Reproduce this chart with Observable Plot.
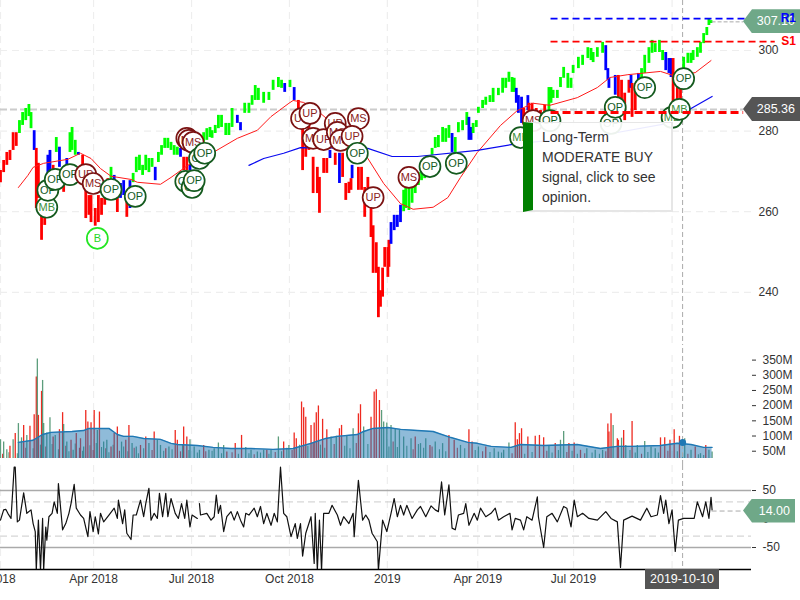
<!DOCTYPE html>
<html>
<head>
<meta charset="utf-8">
<script src="https://cdn.jsdelivr.net/npm/d3@7"></script>
<script src="https://cdn.jsdelivr.net/npm/@observablehq/plot@0.6"></script>
<style>
html,body{margin:0;padding:0;background:#fff;overflow:hidden}
#chart{position:relative;width:800px;height:600px;font-family:Arial,"Liberation Sans",sans-serif;overflow:hidden}
#chart svg{position:absolute;left:0}
.tag{position:absolute;color:#fff;font-size:12.5px;display:flex;align-items:center;justify-content:flex-end;padding-right:5px;box-sizing:border-box;clip-path:polygon(0 50%,9px 0,100% 0,100% 100%,9px 100%)}
.lev{position:absolute;font-weight:bold;font-size:12px}
#tip{position:absolute;left:523px;top:122px;width:150px;height:90px;box-sizing:border-box;background:rgba(255,255,255,.92);border:1px solid #e6e6e6;border-bottom-width:2px;border-right-width:2px;border-left:10px solid #008000;color:#333;font-size:14px;line-height:20px;padding:4px 0 0 9px;white-space:pre}
#date{position:absolute;left:645px;top:569px;width:74px;height:20px;background:#555;color:#fff;font-size:12.5px;line-height:20px;text-align:center}
</style>
</head>
<body>
<div id="chart"></div>
<script>
const barDay=[0,3,6,9,12,15,18,21,24,27,
29,32,34,36,39,42,45,47,50,53,
56,60,63,66,68,71,74,78,81,84,
86,90,93,96,99,102,105,108,111,114,
117,120,123,126,129,132,135,138,141,144,
147,150,153,156,159,162,165,168,171,174,
177,180,183,186,189,193,196,199,201,204,
207,210,214,217,220,225,228,232,236,239,
242,245,250,255,259,264,267,270,275,279,
283,287,290,293,297,301,303,307,310,313,
318,322,325,328,331,333,334,340,343,346,
349,352,354,357,359,361,363,365,368,369,
371,374,377,380,383,385,388,391,394,397,
400,403,407,410,413,416,420,423,426,429,
432,435,439,443,445,447,449,452,454,458,
461,465,468,473,477,480,483,486,488,490,
492,495,497,501,502,505,509,513,517,521,
523,525,529,532,535,539,542,544,549,553,
558,561,563,567,572,575,577,578,584,587,
590,593,597,599,600,603,606,609,612,616,
619,622,626,629,632,635,637,639,643,646,
649,653,656,658,662,665,668,671,673,675];
const barHigh=[270.2,272.7,274.7,275.2,279.6,279.6,282.6,284.6,285.6,286.6,
284.6,280.1,275.7,272,262.3,267.7,274,275.2,271.5,278.4,
276,270.7,273.2,279.6,280.9,277.7,274.7,274,268.2,264,
264,260.8,264,263.3,266.5,268.2,271,269,264.8,267,
267.7,263.3,267.7,269.5,273.5,274,271.5,274,273.2,273.2,
271,274.7,276.4,278.2,278.2,277.2,276.4,276,275.7,273.5,
273.5,271.5,274,275.2,276.4,279.6,280.6,280.9,280.1,281.4,
283.9,283.9,281.9,281.9,285.6,283.9,282.1,286.9,286.9,288.8,
291.3,290.6,289.6,289.6,292.6,293.3,292.6,291.8,292.6,290.8,
287.6,280.9,278.4,281.4,273.5,271,268.5,273.2,273.2,275.2,
274.5,274.5,274.5,267,267.3,268.2,271.5,271,271,266,
268.5,265.3,256.5,252.3,246.2,240.4,246,251.1,251.1,252.9,
257.3,259.1,259.1,261.6,265.3,265.8,266,266,268.5,269.7,
270.2,271,273.2,275.7,278.4,278.9,280.9,280.6,281.4,279.4,
278.4,282.1,282.6,284.6,283.4,280.9,281.9,282.6,285.9,287.6,
288.4,288.8,290.6,290.6,293.1,293.1,294.6,293.3,293.1,290.6,
288.8,288.4,285.6,288.8,286.9,286.9,285.6,285.1,286.4,290.8,
290.8,290.1,290.1,293.3,295.8,294.3,293.1,296.3,298.3,298.8,
300.7,300.5,299.5,300.7,302,301.2,295.5,293.1,293.8,293.8,
292.6,289.4,292.6,293.8,291.8,291.8,294.3,295.5,298.8,300.7,
302.5,301.7,302.5,300,299.5,298,298,298,291.3,290.8,
298.3,299.3,299.3,300,300.7,302,304.2,305.7,307.9,307.4];
const barLow=[267.2,269.7,271.5,272.7,275.2,276.2,279.4,281.4,282.6,283.6,
280.6,275.2,260.8,263.3,252.9,256.6,261.6,268.2,261.6,274.7,
271,264.8,271,274.7,275.2,274,274,269,258.3,259.1,
257.3,256.4,257.3,259.1,261.6,264,267.7,267.7,259.8,263.3,
264,258.6,260.8,267.2,269.7,270.2,269,270.2,269.7,271,
267.7,272.2,274,275.7,275.7,275.2,274,274,273.5,270.2,
270.2,270.2,271.5,272.7,274,277.2,277.7,278.4,278.2,279.4,
280.6,280.9,278.9,278.9,280.9,281.9,280.1,284.4,284.4,286.4,
287.6,287.6,286.9,287.6,290.1,290.8,290.6,289.6,290.8,287.6,
284.6,270.2,273.5,275.2,264.5,264.5,259.6,269.5,269.5,273.2,
271.5,267,268.5,262.8,264.5,265.3,268.2,265.3,265.3,258.6,
263.5,253.6,244.7,244.7,233.7,236.3,238.8,246.2,243.7,246.2,
251.9,255.3,256.1,257.3,260,260.8,260.3,262.1,264.5,266.5,
267.7,268.2,270.2,274,275.7,275.9,277.2,277.2,278.2,274.7,
274.7,279.6,280.1,281.4,277.7,277.7,279.4,280.9,284.4,285.6,
286.4,287.1,287.1,288.8,289.4,290.6,292.1,289.6,289.6,286.9,
284.4,281.9,281.9,285.1,283.4,284.6,282.6,282.1,282.6,285.1,
286.9,288.1,288.1,290.8,293.1,290.6,290.6,294.3,295.5,296.3,
298,297.5,297,298.3,299.3,295,292.6,290.6,288.9,285.1,
285.6,282.6,289.4,290.6,283.4,285.1,291.3,292.6,294.3,296.8,
299.3,299.5,299.5,297.5,295,294.3,293.3,285.1,285.1,287.6,
295.5,296.8,296.8,297.5,298.3,299.3,301.7,303.7,306.2,306.7];
const barKind=("rrrrrrgggg"+"gbrrrrbbrg"+"brbgggbrrr"+"rrrrrrgbrb"+"brbggggggg"+"bgggggggbr"+"rbgggggggg"+"gggggbbggg"+"gggggggbgb"+"rrrrrrrrrb"+"rbrrrrbrrr"+"rrrrrrrrrr"+"bbbbgggggg"+"gggggggggb"+"ggggbbgggg"+"gggggggggb"+"bbrbrrrrrg"+"gggggggggg"+"gggggbbbbr"+"rrrbrrbggg"+"ggggbbbrrr"+"gggggggggg").split("");

const redMaDay=[17,26,31,41,64,76,86,95,105,124,130,152,162,178,202,225,244,257,274,278,288,304,323,342,349,364,380,392,411,425,437,453,475,491,506,522,548,567,579,596,627,639,660,675];
const redMa=[266,269,271,272,273,274.5,273.2,270.7,268.8,268,267.3,266.8,268.5,271.5,274.7,278.2,280.2,283.6,286.9,287.6,287.1,284.4,280.2,275.9,273.2,267,262,260.6,261.1,263.5,268.5,274.7,281.4,285.1,286.9,286.4,288.3,290.8,293.3,294,294.8,293.8,294.5,297.5];
const blueMaDay=[236,250,269,285,349,372,396,453,491,570,638,656,676];
const blueMa=[271.5,273.2,274.5,275.9,275.7,273.7,273.7,275.2,276.9,278.9,282.1,285.6,288.6];

const markerDay=[44,45,52,66,81,88,92,105,128,177,179,183,176,182,184,189,194,286,294,297,307,318,320,323,340,334,339,354,388,408,433,494,506,522,580,584,638,645,612,649];
const markerPrice=[261.1,265.3,268,269.2,269.2,267,253.4,265.5,263.8,278.2,277.7,277.2,267.5,266,267.7,273.2,274.5,283.1,284.4,278.2,277.9,281.9,279.7,277.7,283.1,278.7,274.5,263.5,268.5,271.2,272,278.4,282.6,282.6,281.9,285.9,283.4,285.4,290.8,293];
const markerLabel=["MB","OP","OP","OP","UP","MS","B","OP","OP","MS","MS","MS","OP","OP","OP","OP","OP","UP","UP","MS","UP","UP","MS","MS","MS","UP","OP","UP","MS","OP","OP","MB","MS","OP","OP","OP","MB","MB","OP","OP"];

const volDay=[0,3,6,9,12,14,17,20,22,25,28,32,34,35,36,39,40,41,44,47,50,52,56,59,60,63,67,69,72,76,79,81,83,86,89,92,94,98,101,105,108,111,115,119,122,125,129,133,138,141,146,149,152,157,160,166,168,173,174,177,180,184,189,193,198,203,207,212,215,223,229,233,238,244,250,253,257,264,269,274,279,281,286,288,290,295,298,300,302,306,310,314,319,322,324,329,335,340,342,345,352,355,357,360,362,364,367,371,375,379,383,390,394,399,404,408,413,420,426,431,437,445,448,454,461,469,473,478,483,489,491,493,495,501,508,512,516,521,527,532,535,540,545,551,557,565,572,577,578,580,582,586,587,590,592,594,600,605,612,618,622,627,631,636,640,645,650,656,660,665,670,673,676];
const volume=[88,80,55,66,88,108,141,94,135,102,132,170,294,354,168,247,283,141,110,160,97,102,121,177,138,80,86,53,108,91,64,184,146,144,184,118,179,80,86,64,108,130,80,86,135,75,64,69,97,75,113,86,69,58,64,118,86,69,130,97,88,64,53,69,53,58,77,69,47,75,102,62,53,47,53,53,53,97,80,69,110,91,212,193,162,135,143,177,199,155,121,97,99,124,135,102,124,173,203,130,162,245,252,217,184,146,143,135,124,118,97,91,97,75,91,69,80,75,102,86,69,121,80,64,64,58,47,53,77,144,88,108,124,97,99,102,94,69,75,86,115,75,77,53,58,53,53,140,113,173,135,91,86,93,118,69,148,69,82,64,58,94,94,86,121,99,91,53,64,42,69,53,47];
const volUp=[1,1,1,0,1,0,1,1,0,1,0,0,0,1,0,0,1,1,1,1,0,1,0,0,1,1,0,1,0,0,1,0,0,0,0,1,0,1,1,0,0,0,1,0,0,1,1,0,0,1,0,1,1,0,1,0,0,1,0,0,1,1,1,0,1,1,1,1,0,0,0,1,1,1,1,0,1,1,0,1,0,0,0,0,0,0,0,0,0,0,0,1,1,0,0,1,1,0,0,1,0,0,0,0,1,1,1,1,1,1,1,1,0,1,1,0,1,1,0,0,1,0,0,1,0,1,1,1,1,0,0,0,0,0,0,0,0,1,0,1,1,0,0,0,1,1,1,0,0,0,1,0,0,1,0,1,0,1,1,1,1,0,0,0,0,0,1,1,0,1,0,1,1];
const quietDay=[2,8,16,24,31,38,43,49,55,62,65,71,75,78,85,88,91,96,100,103,107,113,117,121,127,131,136,144,155,163,171,179,187,195,201,210,220,226,236,241,247,255,261,267,272,277,284,292,297,304,308,317,327,332,338,349,369,373,377,386,392,397,402,410,417,423,434,441,451,458,465,476,486,498,505,519,524,530,538,543,548,555,562,569,575,598,603,609,615,625,634,643,648,653,663,668];
const quietVol=[40,45,42,60,58,70,64,72,55,66,48,74,60,50,68,52,75,62,58,45,70,50,64,48,60,42,58,52,50,55,48,52,44,48,50,42,45,40,42,38,44,40,46,48,60,52,70,66,78,70,60,72,66,58,75,72,64,80,62,66,55,72,60,64,55,48,60,58,52,48,46,44,42,40,46,50,44,52,46,50,40,42,44,40,48,52,44,40,46,44,50,48,42,40,38,36];

const volMaDay=[17,31,40,48,68,79,84,103,111,117,126,136,152,162,168,187,202,219,238,259,278,295,309,320,339,345,354,368,380,396,411,428,444,453,466,485,494,516,548,570,586,601,627,643,656,668,676];
const volMa=[79,86,105,112,115,118,125,125,105,99,99,92,89,76,72,69,62.5,59,59,56,59,76,92,99,105,115,125,128,122,118,115,95,79,76,66,62.5,72,69,72,59,66,66,69,76,72,62.5,62.5];

const cciDay=[0,3,5,7,10,13,14,16,18,22,25,29,31,33,34,36,38,40,41,43,44,46,49,51,54,55,59,62,65,67,70,72,76,79,83,85,88,90,93,95,98,103,108,111,112,116,118,120,124,126,129,133,136,138,141,143,146,149,151,154,157,159,162,166,169,172,175,177,180,182,187,188,189,190,196,200,203,205,207,209,212,215,219,222,225,228,231,233,236,241,244,247,250,253,257,260,263,266,269,272,276,280,282,285,287,290,295,298,299,301,303,305,307,312,315,320,323,326,331,335,336,340,344,347,350,353,358,359,363,367,371,374,377,380,383,386,391,396,399,404,409,413,416,419,422,426,429,432,435,440,442,445,450,453,456,461,466,470,473,478,484,486,489,494,497,500,505,510,511,516,519,524,529,535,538,542,545,548,553,559,567,575,580,586,589,592,600,608,614,618,624,627,630,632,635,638,641,644,649,659,662,667,670,673,675,676];
const cci=[-2,16,17,10,1,91,91,-5,-2,46,10,16,-8,-22,-90,-2,-90,1,-90,-14,-37,4,10,30,10,62,-19,-8,10,27,61,19,7,1,-31,13,-22,4,-26,10,-5,7,19,1,33,-8,16,-25,-36,7,7,33,4,27,54,-2,10,1,45,4,45,4,36,10,1,27,1,33,-14,7,1,NaN,27,7,10,-2,4,42,10,24,-22,4,13,-2,13,-2,-14,10,7,19,4,22,-8,10,-11,10,-5,91,10,4,-31,-8,-34,-8,-65,-25,4,-78,10,-90,-2,-90,10,10,24,7,-11,4,-8,10,-31,68,-2,7,-2,-25,-40,-90,-2,-22,10,36,4,24,7,24,1,16,22,4,23,16,13,65,7,60,-16,-19,7,10,27,-11,10,-2,19,4,10,19,-2,4,10,-19,1,-2,-19,4,-2,39,4,-50,4,10,-5,22,19,-14,33,4,10,1,-2,13,1,-5,-85,-2,5,-2,19,4,7,41,10,33,-8,16,-57,-2,1,1,30,4,30,1,38,16];

const priceTicks=[240,260,280,300];
const volTicks=[50,100,150,200,250,300,350];
const cciTicks=[-50,0,50];
const gridDay=[0,88.4,181.5,274.5,367.5,453.4,544.4,638];
const tickDay=[-9,88.4,181.5,274.5,367.5,453.4,544.4];
const tickText=["Jan 2018","Apr 2018","Jul 2018","Oct 2018","2019","Apr 2019","Jul 2019"];
const lastPrice=307.10, lastClose=285.36, r1=307.9, s1=302.2, s2=284.6, cciLast=14.00, hoverDay=648, hoverVol=79;

const K=d3.range(barDay.length);
const xDomain=[0,713.45];
const C=document.getElementById("chart");
const gridLine={stroke:"#eeeeee",strokeDasharray:"7 5",strokeWidth:1.2};
const hover={stroke:"#aaa",strokeDasharray:"5 3",strokeWidth:1};
const kinds={domain:["r","g","b"],range:["#ff0000","#00ff00","#0000ff"]};
const ringColor=d=>d==="B"?"#22e622":(d==="MS"||d==="UP")?"#7a1212":"#145a1e";
const labelColor=d=>d==="B"?"#22d622":(d==="MS"||d==="UP")?"#8a2222":d==="MB"?"#3c8f3c":"#145a1e";

const price=Plot.plot({
  width:800,height:345,marginTop:0,marginBottom:0,marginLeft:0,marginRight:49,
  style:{background:"transparent",fontFamily:"Arial,'Liberation Sans',sans-serif",overflow:"visible"},
  x:{domain:xDomain,axis:null},
  y:{domain:[226.8,312.4],axis:null},
  color:kinds,
  marks:[
    Plot.ruleX(gridDay,gridLine),
    Plot.ruleY(priceTicks,{...gridLine,x1:xDomain[0],x2:xDomain[1]}),
    Plot.axisY({anchor:"right",ticks:priceTicks,tickSize:0,tickPadding:7,fontSize:12,color:"#333",label:null}),
    Plot.ruleY([lastClose],{x1:0,x2:706,stroke:"#ccc",strokeWidth:2,strokeDasharray:"7 3"}),
    Plot.ruleX([hoverDay],{...hover}),
    Plot.ruleX(K,{x:i=>barDay[i],y1:i=>barLow[i],y2:i=>barHigh[i],stroke:i=>barKind[i],strokeWidth:2.8}),
    Plot.line(redMa,{x:(d,i)=>redMaDay[i],y:d=>d,stroke:"#ff1a1a",strokeWidth:1}),
    Plot.line(blueMa,{x:(d,i)=>blueMaDay[i],y:d=>d,stroke:"#0a0af0",strokeWidth:1.2}),
    Plot.ruleY([lastPrice],{x1:676,x2:706,stroke:"#aaa",strokeDasharray:"4 2"}),
    ...markerLabel.flatMap((label,i)=>[
      Plot.dot([label],{x:()=>markerDay[i],y:()=>markerPrice[i],r:10.5,fill:"white",stroke:ringColor(label),strokeWidth:1.7}),
      Plot.text([label],{x:()=>markerDay[i],y:()=>markerPrice[i],text:d=>d,fontSize:11,fill:labelColor(label)})
    ]),
    Plot.ruleY([r1],{x1:523,x2:736,stroke:"#0000ff",strokeWidth:1.6,strokeDasharray:"7 4"}),
    Plot.ruleY([s1],{x1:523,x2:736,stroke:"#ff0000",strokeWidth:1.6,strokeDasharray:"7 4"}),
    Plot.ruleY([s2],{x1:523,x2:706,stroke:"#ff0000",strokeWidth:3,strokeDasharray:"8 4"})
  ]
});
price.style.top="0px";
C.appendChild(price);

const vol=Plot.plot({
  width:800,height:120,marginTop:5,marginBottom:7,marginLeft:0,marginRight:49,
  style:{background:"transparent",fontFamily:"Arial,'Liberation Sans',sans-serif"},
  x:{domain:xDomain,axis:null},
  y:{domain:[26,381.6],axis:null},
  marks:[
    Plot.ruleX(gridDay,{...gridLine,y1:26,y2:365}),
    Plot.axisY({anchor:"right",ticks:volTicks,tickSize:4,tickPadding:7,fontSize:12,color:"#333",label:null,tickFormat:d=>d+"M"}),
    Plot.ruleX(quietVol,{x:(d,i)=>quietDay[i],y1:26,y2:d=>d,stroke:(d,i)=>i%3?"#5c9d7c":"#d63a3a",strokeWidth:1.1}),
    Plot.ruleX(volume,{x:(d,i)=>volDay[i],y1:26,y2:d=>d,stroke:(d,i)=>volUp[i]?"#5c9d7c":"#ee2a20",strokeWidth:1.3}),
    Plot.areaY(volMa,{x:(d,i)=>volMaDay[i],y1:26,y2:d=>d,fill:"#1f78b4",fillOpacity:.5}),
    Plot.line(volMa,{x:(d,i)=>volMaDay[i],y:d=>d,stroke:"#1f78b4",strokeWidth:1.4}),
    Plot.ruleX([hoverDay],{...hover,y1:3,y2:398}),
    Plot.dot([hoverVol],{x:hoverDay,y:d=>d,r:3.5,fill:"#1f78b4"})
  ]
});
vol.style.top="345px";
C.appendChild(vol);

const osc=Plot.plot({
  width:800,height:125,marginTop:0,marginBottom:21,marginLeft:0,marginRight:49,
  style:{background:"transparent",fontFamily:"Arial,'Liberation Sans',sans-serif"},
  x:{domain:xDomain,axis:null},
  y:{domain:[-88.6,93.9],axis:null},
  marks:[
    Plot.ruleX(gridDay,gridLine),
    Plot.ruleY([30,-30],{x1:xDomain[0],x2:xDomain[1],stroke:"#ccc",strokeDasharray:"7 4"}),
    Plot.ruleY([50,-50],{x1:xDomain[0],x2:xDomain[1],stroke:"#aaa",strokeWidth:1.6}),
    Plot.axisY({anchor:"right",ticks:cciTicks,tickSize:4,tickPadding:7,fontSize:12,color:"#333",label:null,tickFormat:d=>String(d)}),
    Plot.ruleX([hoverDay],hover),
    Plot.line(cci,{x:(d,i)=>cciDay[i],y:d=>d,stroke:"#111",strokeWidth:1.2,clip:true}),
    Plot.ruleY([cciLast],{x1:676,x2:706,stroke:"#aaa",strokeDasharray:"5 3"}),
    Plot.ruleY([-88.6],{x1:xDomain[0],x2:xDomain[1],stroke:"#000",strokeWidth:1.4}),
    Plot.axisX({anchor:"bottom",ticks:tickDay,tickFormat:d=>tickText[tickDay.indexOf(d)],tickSize:0,tickPadding:5,fontSize:12,color:"#333",label:null})
  ]
});
osc.style.top="465px";
C.appendChild(osc);

function tag(top,left,width,height,bg,text){
  const t=document.createElement("div");t.className="tag";
  t.style.cssText=`left:${left}px;top:${top-height/2}px;width:${width}px;height:${height}px;background:${bg}`;
  t.textContent=text;C.appendChild(t);
}
const py=v=>price.scale("y").apply(v);
tag(py(lastPrice),743,57,24,"#6fa888",lastPrice.toFixed(2));
tag(py(lastClose),743,57,24,"#555555",lastClose.toFixed(2));
tag(465+osc.scale("y").apply(cciLast),743,52,24,"#6fa888",cciLast.toFixed(2));
function lev(v,text,col){
  const e=document.createElement("div");e.className="lev";
  e.style.cssText=`right:4px;top:${py(v)-7}px;color:${col}`;
  e.textContent=text;C.appendChild(e);
}
lev(r1,"R1","#0000ff");
lev(s1,"S1","#ff0000");
const tip=document.createElement("div");tip.id="tip";
tip.textContent="Long-Term\nMODERATE BUY\nsignal, click to see\nopinion.";
C.appendChild(tip);
const dt=document.createElement("div");dt.id="date";dt.textContent="2019-10-10";C.appendChild(dt);
</script>
</body>
</html>
